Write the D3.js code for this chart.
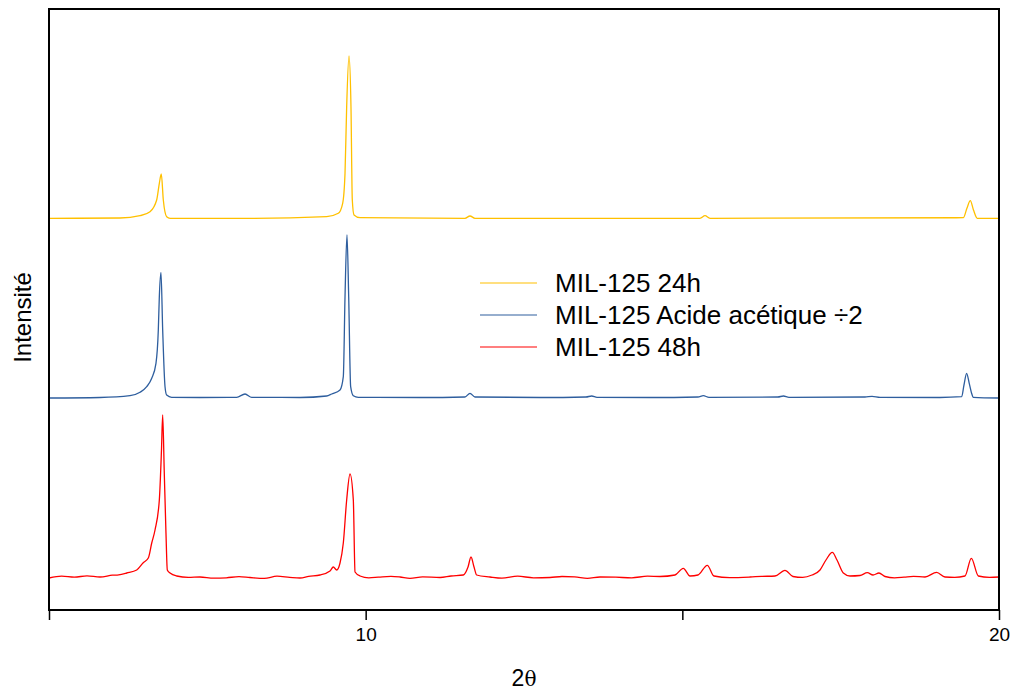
<!DOCTYPE html>
<html lang="fr">
<head>
<meta charset="utf-8">
<script src="https://d3js.org/d3.v7.min.js"></script>
<style>
  body { margin: 0; background: #fff; }
  svg { font-family: 'Liberation Sans', Arial, sans-serif; }
  .frame { fill: none; stroke: #000; stroke-width: 2px; }
  .axis path, .axis line { stroke: #000; stroke-width: 1.5px; }
  .trace { fill: none; stroke-width: 1.3px; stroke-linejoin: round; }
  .legend text { font-family: 'Liberation Sans', Arial, sans-serif; font-size: 26px; fill: #000; }
</style>
</head>
<body>
<svg width="1013" height="690"></svg>
<script>
// series names and colours
var seriesNames = ["MIL-125 24h", "MIL-125 Acide acétique ÷2", "MIL-125 48h"];
var seriesColors = ["#FFC000", "#2E5E9E", "#FF0000"];

// 2θ / intensity (offset traces, arbitrary units)
var x24h = [5.0, 6.121, 6.437, 6.595, 6.700, 6.742, 6.773, 6.805, 6.858, 6.911, 8.174, 9.384, 9.568, 9.637, 9.674, 9.700, 9.737, 9.768, 9.789, 9.816, 9.911, 11.568, 11.647, 11.726, 15.279, 15.358, 15.437, 19.437, 19.495, 19.547, 19.597, 19.657, 20.0];
var y24h = [3917, 3920, 3943, 3983, 4100, 4267, 4360, 4100, 3933, 3917, 3917, 3933, 3967, 4067, 4367, 5033, 5540, 5033, 4100, 3950, 3923, 3917, 3940, 3917, 3917, 3943, 3917, 3923, 4020, 4093, 4000, 3917, 3917];

var xAcide = [5.0, 5.805, 6.279, 6.437, 6.543, 6.622, 6.689, 6.726, 6.742, 6.768, 6.795, 6.832, 6.858, 6.937, 7.384, 7.964, 8.095, 8.201, 8.963, 9.384, 9.464, 9.595, 9.647, 9.674, 9.705, 9.732, 9.763, 9.805, 9.884, 10.858, 11.568, 11.647, 11.726, 12.753, 13.479, 13.569, 13.653, 14.489, 15.247, 15.331, 15.421, 16.510, 16.595, 16.684, 17.884, 17.995, 18.121, 19.068, 19.411, 19.447, 19.489, 19.530, 19.566, 19.595, 20.0];
var yAcide = [2120, 2125, 2143, 2177, 2233, 2317, 2467, 2800, 3133, 3377, 2800, 2233, 2150, 2127, 2125, 2127, 2160, 2127, 2125, 2140, 2160, 2200, 2333, 3133, 3750, 3133, 2233, 2143, 2127, 2125, 2130, 2167, 2130, 2125, 2130, 2140, 2127, 2125, 2130, 2143, 2127, 2130, 2140, 2127, 2130, 2137, 2127, 2125, 2133, 2250, 2367, 2267, 2170, 2127, 2120];

var x48h = [5.0, 5.2, 5.4, 5.6, 5.805, 6.0, 6.1, 6.227, 6.385, 6.484, 6.568, 6.622, 6.674, 6.742, 6.776, 6.795, 6.819, 6.847, 6.868, 6.911, 7.016, 7.2, 7.384, 7.6, 7.8, 8.0, 8.173, 8.4, 8.6, 8.8, 8.963, 9.1, 9.279, 9.437, 9.489, 9.543, 9.595, 9.647, 9.700, 9.753, 9.805, 9.832, 9.911, 10.05, 10.2, 10.4, 10.542, 10.7, 10.9, 11.174, 11.35, 11.542, 11.616, 11.663, 11.711, 11.753, 11.963, 12.15, 12.4, 12.65, 12.911, 13.1, 13.3, 13.5, 13.700, 13.95, 14.2, 14.45, 14.647, 14.884, 15.015, 15.121, 15.247, 15.394, 15.500, 15.75, 16.068, 16.25, 16.463, 16.621, 16.747, 16.9, 17.047, 17.174, 17.268, 17.368, 17.442, 17.542, 17.647, 17.805, 17.921, 18.011, 18.105, 18.200, 18.35, 18.5, 18.65, 18.832, 19.016, 19.147, 19.3, 19.463, 19.563, 19.674, 19.85, 20.0];
var y48h = [320, 338, 328, 342, 330, 348, 352, 370, 400, 470, 520, 670, 800, 1100, 1600, 1950, 1400, 770, 400, 370, 340, 326, 330, 318, 322, 334, 325, 316, 338, 327, 320, 336, 350, 390, 430, 400, 470, 670, 1100, 1360, 1100, 380, 340, 322, 328, 336, 330, 317, 332, 325, 340, 350, 430, 530, 430, 350, 330, 318, 338, 322, 325, 335, 332, 316, 330, 328, 322, 338, 335, 350, 417, 340, 350, 447, 340, 324, 330, 336, 340, 397, 335, 326, 350, 400, 500, 577, 500, 370, 340, 345, 373, 350, 370, 335, 322, 328, 336, 330, 377, 330, 327, 340, 517, 340, 326, 330];

var xTicks = [5, 10, 15, 20];

var svg = d3.select("svg"),
    margin = {top: 9, right: 14, bottom: 80, left: 49},
    width = +svg.attr("width") - margin.left - margin.right,
    height = +svg.attr("height") - margin.top - margin.bottom;

var x = d3.scaleLinear().domain([5, 20]).range([0, width]);
var y = d3.scaleLinear().domain([0, 6010]).range([height, 0]);

var g = svg.append("g").attr("transform", "translate(" + margin.left + "," + margin.top + ")");

var series = [
  {name: seriesNames[0], color: seriesColors[0], xs: x24h, ys: y24h},
  {name: seriesNames[1], color: seriesColors[1], xs: xAcide, ys: yAcide},
  {name: seriesNames[2], color: seriesColors[2], xs: x48h, ys: y48h}
];

var line = d3.line()
    .curve(d3.curveMonotoneX)
    .x(d => x(d[0]))
    .y(d => y(d[1]));

g.selectAll(".trace")
  .data(series)
  .enter().append("path")
    .attr("class", "trace")
    .attr("stroke", d => d.color)
    .attr("d", d => line(d3.zip(d.xs, d.ys)));

// box
g.append("rect")
    .attr("class", "frame")
    .attr("width", width)
    .attr("height", height);

var xAxis = g.append("g")
    .attr("class", "axis")
    .attr("transform", "translate(0," + height + ")")
    .call(d3.axisBottom(x)
      .tickValues(xTicks)
      .tickSize(10)
      .tickPadding(8)
      .tickFormat(d => d % 10 === 0 ? d : ""))
    .call(a => a.select(".domain").remove());

xAxis.attr("font-size", null).attr("font-family", null);
xAxis.selectAll("text")
    .style("font-size", "19px")
    .style("font-family", "'Liberation Sans', Arial, sans-serif")
    .attr("fill", "#000");

var xt = svg.append("text")
    .attr("x", margin.left + x(12.5))
    .attr("y", 686)
    .attr("text-anchor", "middle")
    .style("font-size", "23px");
xt.append("tspan").text("2");
xt.append("tspan").style("font-family", "'DejaVu Serif', serif").style("font-size", "20px").text("θ");

svg.append("text")
    .attr("transform", "translate(31," + (margin.top + height / 2 + 8) + ") rotate(-90)")
    .attr("text-anchor", "middle")
    .style("font-size", "24px")
    .text("Intensité");

// legend
var legend = svg.append("g").attr("class", "legend")
    .attr("transform", "translate(480,283)");

var item = legend.selectAll("g")
  .data(series)
  .enter().append("g")
    .attr("transform", (d, i) => "translate(0," + i * 32 + ")");

item.append("line")
    .attr("x1", 0).attr("x2", 57)
    .attr("stroke", d => d.color)
    .attr("stroke-width", 1.2);

item.append("text")
    .attr("x", 75)
    .attr("y", 9)
    .text(d => d.name);
</script>
</body>
</html>
